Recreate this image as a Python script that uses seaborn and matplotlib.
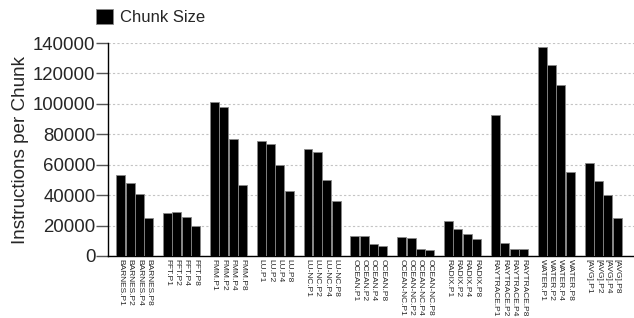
import numpy as np
import pandas as pd
import matplotlib
matplotlib.use("Agg")
import matplotlib.pyplot as plt
import seaborn as sns

# benchmarks and processor counts
benchmarks = ["BARNES", "FFT", "FMM", "LU", "LU-NC", "OCEAN", "OCEAN-NC",
              "RADIX", "RAYTRACE", "WATER", "[AVG]"]
procs = ["P1", "P2", "P4", "P8"]

# instructions per chunk (P1, P2, P4, P8)
barnes = [53500, 48000, 40700, 25000]
fft = [28100, 29000, 25900, 19500]
fmm = [101200, 97700, 76900, 46500]
lu = [75500, 73700, 60000, 42700]
lu_nc = [70400, 68400, 49800, 35900]
ocean = [13300, 13300, 7800, 6600]
ocean_nc = [12600, 11700, 4650, 3800]
radix = [23300, 17700, 14400, 11100]
raytrace = [93000, 8800, 4900, 4650]
water = [137100, 125600, 112300, 55100]
avg = [60900, 49400, 39900, 25000]

series = [barnes, fft, fmm, lu, lu_nc, ocean, ocean_nc, radix, raytrace, water, avg]

rows = []
order = []
for i, (b, vals) in enumerate(zip(benchmarks, series)):
    if i > 0:
        order.append(" " * i)  # empty slot between groups
    for p, v in zip(procs, vals):
        lab = f"{b}.{p}"
        rows.append({"label": lab, "value": v})
        order.append(lab)
df = pd.DataFrame(rows)

sns.set_style("white")
plt.rcParams["font.family"] = ["Liberation Sans", "DejaVu Sans"]

fig = plt.figure(figsize=(6.34, 3.18), dpi=100)
ax = fig.add_axes([108 / 634, 62 / 318, 526 / 634, 213 / 318])

sns.barplot(data=df, x="label", y="value", order=order, color="black",
            width=0.96, edgecolor="#888888", linewidth=0.6, saturation=1,
            label="Chunk Size", ax=ax, zorder=3)

ax.set_ylim(0, 140000)
ax.set_yticks(np.arange(0, 140001, 20000))
ax.set_xlim(-1.35, 54.8)
ax.yaxis.grid(True, linestyle=(0, (2, 2)), color="#c4c4c4", linewidth=0.8, zorder=0)
ax.xaxis.grid(False)

ticklabels = [t if t.strip() else "" for t in order]
ax.set_xticks(range(len(order)))
ax.set_xticklabels(ticklabels, rotation=-90, fontsize=6.0, ha="center", va="top")
ax.tick_params(axis="x", length=0, pad=2)
ax.tick_params(axis="y", labelsize=13.4, length=8.5, width=1, direction="out",
               left=True, pad=0.5, color="#555555")

for s in ["top", "right"]:
    ax.spines[s].set_visible(False)
ax.spines["left"].set_color("black")
ax.spines["bottom"].set_color("black")
ax.spines["left"].set_linewidth(1)
ax.spines["bottom"].set_linewidth(1)

ax.set_xlabel("")
ax.set_ylabel("Instructions per Chunk", fontsize=13.6, labelpad=3)

ax.legend(loc="center left", bbox_to_anchor=(-0.035, 1.123), frameon=False,
          fontsize=12, handlelength=1.0, handleheight=1.0, handletextpad=0.4,
          borderaxespad=0)

fig.savefig("out.png", dpi=100)
